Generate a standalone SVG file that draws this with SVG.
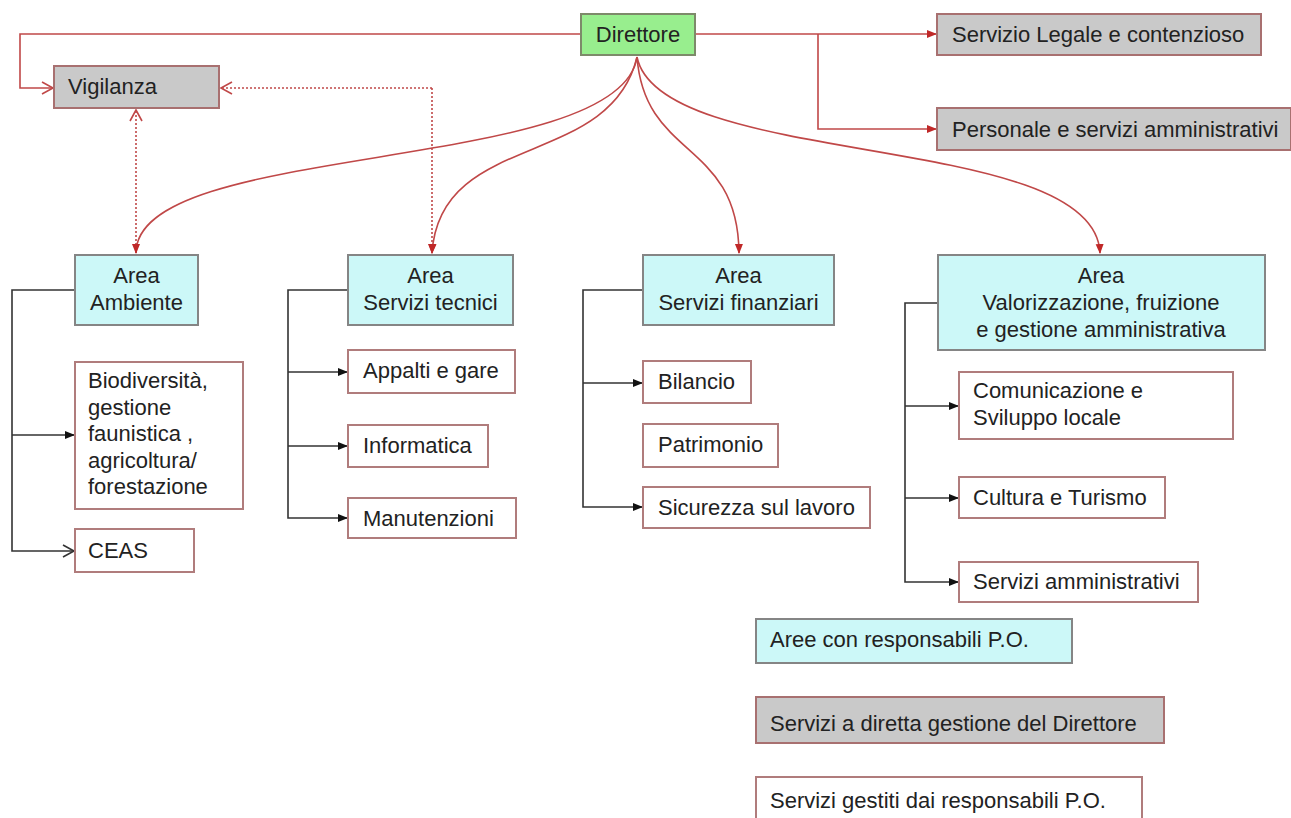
<svg xmlns="http://www.w3.org/2000/svg" width="1291" height="818" viewBox="0 0 1291 818">
<style>
text{font-family:"Liberation Sans",Arial,sans-serif;font-size:22px;fill:#222}
.c{text-anchor:middle}
.area{fill:#ccf8f8;stroke:#858585;stroke-width:2}
.svc{fill:#fff;stroke:#b07c7c;stroke-width:2}
.gray{fill:#c9c9c9;stroke:#a87070;stroke-width:2}
.dir{fill:#98ee8e;stroke:#7d8a6a;stroke-width:2}
.red{fill:none;stroke:#c04848;stroke-width:1.6}
.dot{fill:none;stroke:#c04848;stroke-width:1.6;stroke-dasharray:2 2}
.blk{fill:none;stroke:#333;stroke-width:1.6}
</style>
<defs>
<marker id="rf" markerWidth="10" markerHeight="10" refX="9" refY="5" orient="auto" markerUnits="userSpaceOnUse"><path d="M0,1 L10,5 L0,9 z" fill="#c02828"/></marker>
<marker id="ro" markerWidth="14" markerHeight="14" refX="12" refY="7" orient="auto" markerUnits="userSpaceOnUse"><path d="M1,1 L12,7 L1,13" fill="none" stroke="#c04848" stroke-width="1.6"/></marker>
<marker id="bf" markerWidth="10" markerHeight="10" refX="9" refY="5" orient="auto" markerUnits="userSpaceOnUse"><path d="M0,1 L10,5 L0,9 z" fill="#111"/></marker>
<marker id="bo" markerWidth="14" markerHeight="14" refX="12" refY="7" orient="auto" markerUnits="userSpaceOnUse"><path d="M1,1 L12,7 L1,13" fill="none" stroke="#333" stroke-width="1.6"/></marker>
</defs>
<rect width="1291" height="818" fill="#fff"/>

<g id="connectors">
<path class="red" d="M581,34 H20 V88 H53" marker-end="url(#ro)"/>
<path class="red" d="M695,34 H936" marker-end="url(#rf)"/>
<path class="red" d="M818,34 V129 H936" marker-end="url(#rf)"/>
<path class="dot" d="M432,88 H221" marker-end="url(#ro)"/>
<path class="dot" d="M432,88 V253" marker-end="url(#rf)"/>
<path class="dot" d="M136,253 V110" marker-end="url(#ro)"/>
<path class="red" d="M637,57 C620,175 136,140 136,253" marker-end="url(#rf)"/>
<path class="red" d="M637,57 C610,170 440,130 432,253" marker-end="url(#rf)"/>
<path class="red" d="M637,57 C645,160 738,140 739,253" marker-end="url(#rf)"/>
<path class="red" d="M637,57 C660,170 1095,130 1100,253" marker-end="url(#rf)"/>
<path class="blk" d="M75,290 H12 V551 H74" marker-end="url(#bo)"/>
<path class="blk" d="M12,435 H74" marker-end="url(#bf)"/>
<path class="blk" d="M348,290 H288 V518 H347" marker-end="url(#bf)"/>
<path class="blk" d="M288,372 H347" marker-end="url(#bf)"/>
<path class="blk" d="M288,446 H347" marker-end="url(#bf)"/>
<path class="blk" d="M643,290 H583 V507 H642" marker-end="url(#bf)"/>
<path class="blk" d="M583,383 H642" marker-end="url(#bf)"/>
<path class="blk" d="M938,303 H905 V582 H958" marker-end="url(#bf)"/>
<path class="blk" d="M905,406 H958" marker-end="url(#bf)"/>
<path class="blk" d="M905,498 H958" marker-end="url(#bf)"/>
</g>

<g id="direttore"><rect class="dir" x="581" y="14" width="114" height="41"/><text class="c" x="638" y="42">Direttore</text></g>
<g id="vigilanza"><rect class="gray" x="54" y="66" width="165" height="42"/><text x="68" y="94">Vigilanza</text></g>
<g id="legale"><rect class="gray" x="937" y="14" width="324" height="41"/><text x="952" y="42">Servizio Legale e contenzioso</text></g>
<g id="personale"><rect class="gray" x="937" y="108" width="354" height="42"/><text x="952" y="137">Personale e servizi amministrativi</text></g>

<g id="area-ambiente"><rect class="area" x="75" y="255" width="123" height="70"/><text class="c" x="136.5" y="283">Area</text><text class="c" x="136.5" y="310">Ambiente</text></g>
<g id="biodiversita"><rect class="svc" x="75" y="362" width="168" height="147"/><text x="88" y="388">Biodiversità,</text><text x="88" y="414.5">gestione</text><text x="88" y="441">faunistica ,</text><text x="88" y="467.5">agricoltura/</text><text x="88" y="494">forestazione</text></g>
<g id="ceas"><rect class="svc" x="75" y="529" width="119" height="43"/><text x="88" y="558">CEAS</text></g>

<g id="area-tecnici"><rect class="area" x="348" y="255" width="165" height="70"/><text class="c" x="430.5" y="283">Area</text><text class="c" x="430.5" y="310">Servizi tecnici</text></g>
<g id="appalti"><rect class="svc" x="348" y="350" width="167" height="43"/><text x="363" y="378">Appalti e gare</text></g>
<g id="informatica"><rect class="svc" x="348" y="425" width="140" height="42"/><text x="363" y="453">Informatica</text></g>
<g id="manutenzioni"><rect class="svc" x="348" y="498" width="168" height="40"/><text x="363" y="526">Manutenzioni</text></g>

<g id="area-finanziari"><rect class="area" x="643" y="255" width="191" height="70"/><text class="c" x="738.5" y="283">Area</text><text class="c" x="738.5" y="310">Servizi finanziari</text></g>
<g id="bilancio"><rect class="svc" x="643" y="361" width="108" height="42"/><text x="658" y="389">Bilancio</text></g>
<g id="patrimonio"><rect class="svc" x="643" y="424" width="135" height="43"/><text x="658" y="452">Patrimonio</text></g>
<g id="sicurezza"><rect class="svc" x="643" y="487" width="227" height="41"/><text x="658" y="515">Sicurezza sul lavoro</text></g>

<g id="area-valorizzazione"><rect class="area" x="938" y="255" width="327" height="95"/><text class="c" x="1101" y="283">Area</text><text class="c" x="1101" y="310">Valorizzazione, fruizione</text><text class="c" x="1101" y="337">e gestione amministrativa</text></g>
<g id="comunicazione"><rect class="svc" x="959" y="372" width="274" height="67"/><text x="973" y="398">Comunicazione e</text><text x="973" y="425">Sviluppo locale</text></g>
<g id="cultura"><rect class="svc" x="959" y="477" width="206" height="41"/><text x="973" y="505">Cultura e Turismo</text></g>
<g id="servizi-amm"><rect class="svc" x="959" y="562" width="239" height="40"/><text x="973" y="589">Servizi amministrativi</text></g>

<g id="legend-aree"><rect class="area" x="756" y="619" width="316" height="44"/><text x="770" y="647">Aree con responsabili P.O.</text></g>
<g id="legend-diretta"><rect class="gray" x="756" y="697" width="408" height="46"/><text x="770" y="731">Servizi a diretta gestione del Direttore</text></g>
<g id="legend-gestiti"><rect class="svc" x="756" y="777" width="386" height="46"/><text x="770" y="808">Servizi gestiti dai responsabili P.O.</text></g>
</svg>
